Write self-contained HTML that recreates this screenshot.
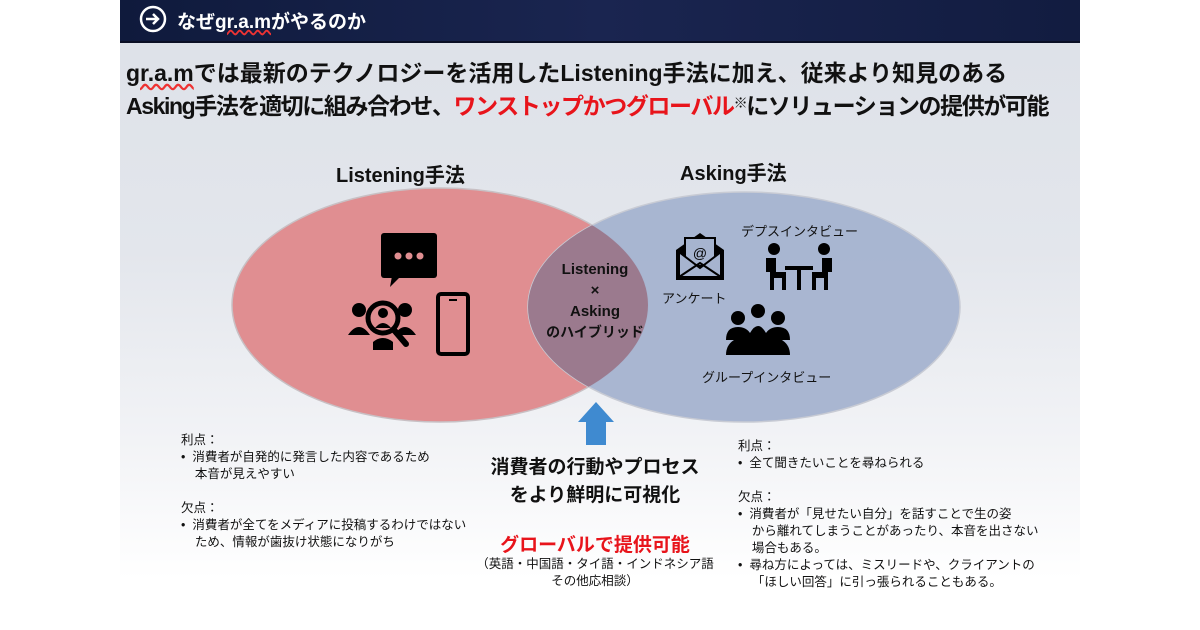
<!DOCTYPE html>
<html><head><meta charset="utf-8"><style>
*{margin:0;padding:0}
body{width:1200px;height:630px;background:#fff;position:relative;overflow:hidden;font-family:"Liberation Sans","Noto Sans CJK JP",sans-serif;color:#111}
#slide{position:absolute;left:120px;top:0;width:960px;height:630px;background:linear-gradient(#dde1e8 0%,#e3e6ec 40%,#f2f3f6 70%,#fff 92%)}
#band{position:absolute;left:120px;top:0;width:960px;height:41px;background:linear-gradient(90deg,#0f1a3c,#1a2550 50%,#121c40);border-bottom:2px solid #0a0f25}
.t{position:absolute;white-space:nowrap}
.b{font-weight:bold}
</style></head><body>
<div id="slide"></div>
<div id="band"></div>
<svg style="position:absolute;left:0;top:0" width="1200" height="630">
<circle cx="153" cy="19" r="12" fill="none" stroke="#fff" stroke-width="2.5"/>
<path d="M146 19h12M153 14l5 5-5 5" stroke="#fff" stroke-width="2.5" fill="none"/>
<ellipse cx="440" cy="305" rx="208" ry="117" fill="#e08e91" stroke="#c8c0c4" stroke-width="1.5"/>
<ellipse cx="744" cy="307" rx="216" ry="115" fill="#a6b4cf" fill-opacity="0.97" stroke="#c8cbd4" stroke-width="1.5"/>
<clipPath id="c"><ellipse cx="440" cy="305" rx="208" ry="117"/></clipPath>
<ellipse cx="744" cy="307" rx="216" ry="115" fill="#9b7a8e" clip-path="url(#c)"/>
<path d="M586 445V422H578L596 402L614 422H606V445Z" fill="#3f8ad0"/>
<rect x="381" y="233" width="56" height="45" rx="3" fill="#000"/>
<path d="M392 276l-2 11 10-10z" fill="#000"/>
<circle cx="398" cy="256" r="3.5" fill="#e08e91"/><circle cx="409" cy="256" r="3.5" fill="#e08e91"/><circle cx="420" cy="256" r="3.5" fill="#e08e91"/>
<circle cx="359" cy="310" r="7" fill="#000"/><circle cx="405" cy="310" r="7" fill="#000"/>
<path d="M348 335q11-16 22 0zM394 335q11-16 22 0z" fill="#000"/>
<circle cx="383" cy="318" r="15" fill="none" stroke="#000" stroke-width="5"/>
<circle cx="383" cy="313" r="5" fill="#000"/><path d="M375 328q8-10 16 0z" fill="#000"/>
<path d="M373 342q10-8 20 0v8h-20z" fill="#000"/>
<path d="M394 330l12 14" stroke="#000" stroke-width="6" stroke-linecap="round"/>
<rect x="438" y="294" width="30" height="60" rx="3" fill="none" stroke="#000" stroke-width="4"/>
<rect x="449" y="299" width="8" height="2" fill="#000"/>
<path d="M676 250l24-17 24 17v30h-48z" fill="#000"/>
<rect x="685" y="238" width="30" height="28" fill="#a6b4cf" stroke="#000" stroke-width="2"/>
<text x="700" y="258" font-size="14" text-anchor="middle" font-family="Liberation Sans">@</text>
<path d="M679 252l21 16 21-16v25h-42z" fill="#a6b4cf" stroke="#000" stroke-width="2"/>
<path d="M679 277l21-14 21 14" fill="none" stroke="#000" stroke-width="2"/>
<circle cx="774" cy="249" r="6" fill="#000"/><circle cx="824" cy="249" r="6" fill="#000"/>
<path d="M766 258h10v14h10v18h-4v-12h-8v12h-4v-18h-4z" fill="#000"/>
<path d="M832 258h-10v14h-10v18h4v-12h8v12h4v-18h4z" fill="#000"/>
<rect x="785" y="266" width="28" height="4" fill="#000"/><rect x="797" y="268" width="4" height="22" fill="#000"/>
<circle cx="738" cy="318" r="7" fill="#000"/><circle cx="758" cy="311" r="7" fill="#000"/><circle cx="778" cy="318" r="7" fill="#000"/>
<path d="M726 340q0-13 12-13q8 0 12 6q4-7 8-7q4 0 8 7q4-6 12-6q12 0 12 13z" fill="#000"/>
<path d="M726 355q0-20 32-20q32 0 32 20z" fill="#000"/>
</svg>
<div class="t b" style="left:177px;top:7px;font-size:19px;color:#fff">なぜ<span style="text-decoration:underline wavy #e33">gr.a.m</span>がやるのか</div>
<div class="t b" style="left:126px;top:58px;font-size:23px;line-height:30px;letter-spacing:0px"><span style="text-decoration:underline wavy #e33">gr.a.m</span>では最新のテクノロジーを活用したListening手法に加え、従来より知見のある</div>
<div class="t b" style="left:126px;top:88px;font-size:23px;line-height:30px;letter-spacing:-1.4px">Asking手法を適切に組み合わせ、<span style="color:#e8141b">ワンストップかつグローバル</span><span style="font-size:14px;vertical-align:6px">※</span>にソリューションの提供が可能</div>
<div class="t b" style="left:336px;top:159px;font-size:20px">Listening手法</div>
<div class="t b" style="left:680px;top:157px;font-size:20px">Asking手法</div>
<div class="t b" style="left:540px;top:259px;width:110px;text-align:center;font-size:15px;line-height:21px">Listening<br>×<br>Asking<br><span style="font-size:14px">のハイブリッド</span></div>
<div class="t" style="left:741px;top:221px;font-size:13px">デプスインタビュー</div>
<div class="t" style="left:662px;top:288px;font-size:13px">アンケート</div>
<div class="t" style="left:702px;top:367px;font-size:13px">グループインタビュー</div>
<div class="t" style="left:181px;top:432px;font-size:12.5px;line-height:17px">利点：<br>•&nbsp;&nbsp;消費者が自発的に発言した内容であるため<br>&nbsp;&nbsp;&nbsp;&nbsp;本音が見えやすい</div>
<div class="t" style="left:181px;top:500px;font-size:12.5px;line-height:17px">欠点：<br>•&nbsp;&nbsp;消費者が全てをメディアに投稿するわけではない<br>&nbsp;&nbsp;&nbsp;&nbsp;ため、情報が歯抜け状態になりがち</div>
<div class="t b" style="left:470px;top:454px;width:250px;text-align:center;font-size:19px;line-height:28px">消費者の行動やプロセス<br>をより鮮明に可視化</div>
<div class="t b" style="left:470px;top:530px;width:250px;text-align:center;font-size:19px;color:#e8141b">グローバルで提供可能</div>
<div class="t" style="left:470px;top:556px;width:250px;text-align:center;font-size:12.5px;line-height:17px">（英語・中国語・タイ語・インドネシア語<br>その他応相談）</div>
<div class="t" style="left:738px;top:438px;font-size:12.5px;line-height:17px">利点：<br>•&nbsp;&nbsp;全て聞きたいことを尋ねられる</div>
<div class="t" style="left:738px;top:489px;font-size:12.5px;line-height:17px">欠点：<br>•&nbsp;&nbsp;消費者が「見せたい自分」を話すことで生の姿<br>&nbsp;&nbsp;&nbsp;&nbsp;から離れてしまうことがあったり、本音を出さない<br>&nbsp;&nbsp;&nbsp;&nbsp;場合もある。<br>•&nbsp;&nbsp;尋ね方によっては、ミスリードや、クライアントの<br>&nbsp;&nbsp;&nbsp;&nbsp;「ほしい回答」に引っ張られることもある。</div>
</body></html>
